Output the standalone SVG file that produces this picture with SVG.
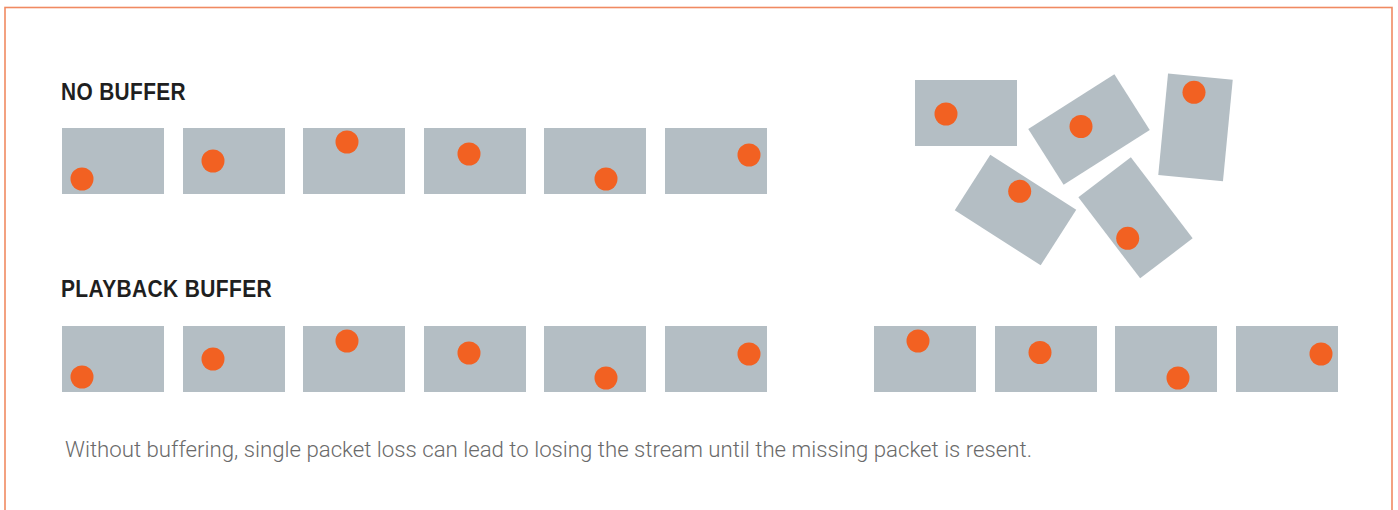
<svg xmlns="http://www.w3.org/2000/svg" width="1398" height="510" viewBox="0 0 1398 510">
<style>
.frame{fill:none;stroke:#f08a62;stroke-width:1.6}
.pk{fill:#b4bec4}
.dot{fill:#f26122}
.title{font-family:"Liberation Sans",Arial,sans-serif;font-weight:bold;font-size:23px;fill:#1f1f1f;letter-spacing:0.4px}
.cap{font-family:Roboto,"Liberation Sans",sans-serif;font-weight:300;font-size:22px;fill:#6a6a6a}
</style>
<defs>
<rect id="p" x="0" y="0" width="102" height="66" class="pk"/>
</defs>
<rect class="frame" x="5" y="7.5" width="1387" height="520"/>
<g id="label-no-buffer"><text class="title" x="61" y="100" textLength="125" lengthAdjust="spacingAndGlyphs">NO BUFFER</text></g>
<g id="label-playback-buffer"><text class="title" x="61" y="297" textLength="211" lengthAdjust="spacingAndGlyphs">PLAYBACK BUFFER</text></g>
<g id="row-no-buffer">
<g id="nb1"><use href="#p" x="62" y="128"/><circle class="dot" cx="82" cy="179" r="11.5"/></g>
<g id="nb2"><use href="#p" x="183" y="128"/><circle class="dot" cx="213" cy="161" r="11.5"/></g>
<g id="nb3"><use href="#p" x="303" y="128"/><circle class="dot" cx="347" cy="142" r="11.5"/></g>
<g id="nb4"><use href="#p" x="424" y="128"/><circle class="dot" cx="469" cy="154" r="11.5"/></g>
<g id="nb5"><use href="#p" x="544" y="128"/><circle class="dot" cx="606" cy="179" r="11.5"/></g>
<g id="nb6"><use href="#p" x="665" y="128"/><circle class="dot" cx="749" cy="155" r="11.5"/></g>
</g>
<g id="scattered">
<g id="s1"><use href="#p" x="915" y="80"/><circle class="dot" cx="946" cy="114" r="11.5"/></g>
<g id="s2"><rect class="pk" x="-51" y="-33" width="102" height="66" transform="translate(1089 129.5) rotate(-32.4)"/><circle class="dot" cx="1081" cy="126.5" r="11.5"/></g>
<g id="s3"><rect class="pk" x="-32.5" y="-51" width="65" height="102" transform="translate(1195.5 127.3) rotate(5.5)"/><circle class="dot" cx="1194" cy="92.3" r="11.5"/></g>
<g id="s4"><rect class="pk" x="-51" y="-33" width="102" height="66" transform="translate(1015.5 210) rotate(32.6)"/><circle class="dot" cx="1019.7" cy="191.3" r="11.5"/></g>
<g id="s5"><rect class="pk" x="-51" y="-33" width="102" height="66" transform="translate(1135.5 217.8) rotate(52.7)"/><circle class="dot" cx="1127.7" cy="238.3" r="11.5"/></g>
</g>
<g id="row-playback">
<g id="pb1"><use href="#p" x="62" y="326"/><circle class="dot" cx="82" cy="377" r="11.5"/></g>
<g id="pb2"><use href="#p" x="183" y="326"/><circle class="dot" cx="213" cy="359" r="11.5"/></g>
<g id="pb3"><use href="#p" x="303" y="326"/><circle class="dot" cx="347" cy="341" r="11.5"/></g>
<g id="pb4"><use href="#p" x="424" y="326"/><circle class="dot" cx="469" cy="353" r="11.5"/></g>
<g id="pb5"><use href="#p" x="544" y="326"/><circle class="dot" cx="606" cy="378" r="11.5"/></g>
<g id="pb6"><use href="#p" x="665" y="326"/><circle class="dot" cx="749" cy="354" r="11.5"/></g>
<g id="pb7"><use href="#p" x="874" y="326"/><circle class="dot" cx="918" cy="341" r="11.5"/></g>
<g id="pb8"><use href="#p" x="995" y="326"/><circle class="dot" cx="1040" cy="352.5" r="11.5"/></g>
<g id="pb9"><use href="#p" x="1115" y="326"/><circle class="dot" cx="1178" cy="378" r="11.5"/></g>
<g id="pb10"><use href="#p" x="1236" y="326"/><circle class="dot" cx="1321" cy="354" r="11.5"/></g>
</g>
<g id="caption"><text class="cap" x="65" y="457" textLength="967" lengthAdjust="spacingAndGlyphs">Without buffering, single packet loss can lead to losing the stream until the missing packet is resent.</text></g>
</svg>
